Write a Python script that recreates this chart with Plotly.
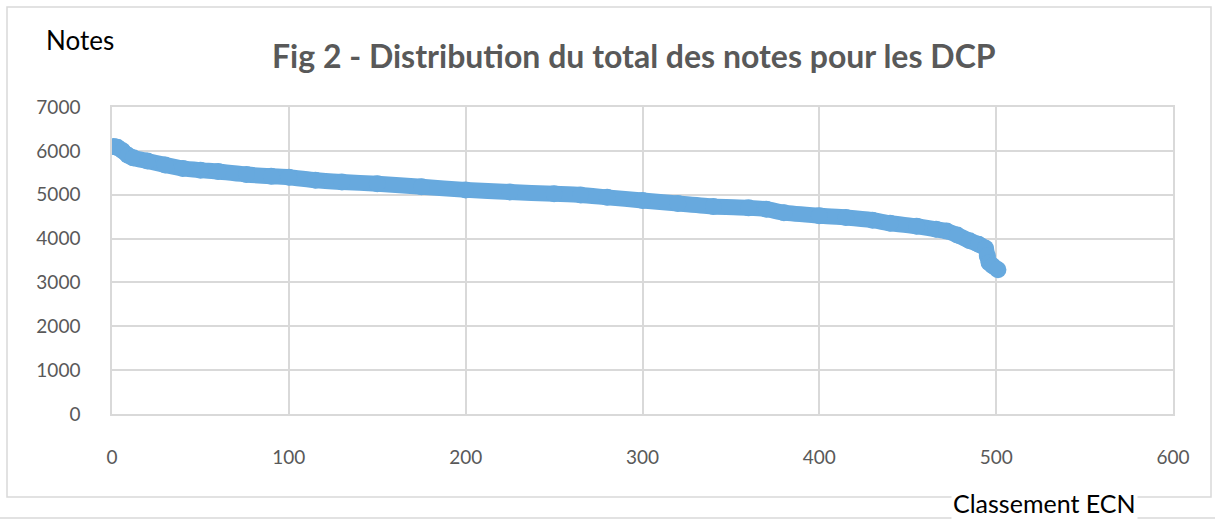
import plotly.graph_objects as go

ranks = [1, 3, 6, 9, 12, 20, 30, 40, 50, 60, 76, 90, 100, 115, 130, 150, 175,
         200, 225, 250, 265, 280, 300, 320, 340, 360, 370, 380, 400, 415, 430,
         440, 455, 466, 472, 478, 485, 490, 494, 495, 496, 498, 501]
notes = [6100, 6080, 6000, 5900, 5840, 5770, 5680, 5600, 5560, 5530, 5460,
         5420, 5400, 5330, 5290, 5250, 5180, 5110, 5060, 5020, 4995, 4940,
         4870, 4800, 4730, 4700, 4670, 4590, 4520, 4480, 4420, 4350, 4280,
         4210, 4170, 4080, 3950, 3870, 3780, 3600, 3450, 3380, 3290]

x_ticks = [0, 100, 200, 300, 400, 500, 600]
y_ticks = [0, 1000, 2000, 3000, 4000, 5000, 6000, 7000]

title_text = "Fig 2 - Distribution du total des notes pour les DCP"
y_label = "Notes"
x_label = "Classement ECN"

W, H = 1215, 520
L, R, T, B = 112, 42, 107, 106
pw, ph = W - L - R, H - T - B

def px(x):
    return (x - L) / pw

def py(y):
    return (H - B - y) / ph

blue = "#67A9DE"
grid = "#D9D9D9"
font = "Lato"

fig = go.Figure()
fig.add_trace(go.Scatter(
    x=ranks, y=notes, mode="lines+markers",
    line=dict(color=blue, width=16, shape="spline", smoothing=0.6),
    marker=dict(color=blue, size=17),
    hoverinfo="x+y", showlegend=False,
))

fig.update_layout(
    width=W, height=H,
    margin=dict(l=L, r=R, t=T, b=B),
    paper_bgcolor="white", plot_bgcolor="white",
    font=dict(family=font, color="#595959", size=19),
    xaxis=dict(range=[0, 600], tickvals=x_ticks, ticktext=[str(v) for v in x_ticks],
               showgrid=True, gridcolor=grid, gridwidth=1.5,
               showline=True, linecolor=grid, linewidth=1.5, mirror=True,
               zeroline=False, ticks="", ticklabelstandoff=25,
               tickfont=dict(size=19, color="#595959", family=font)),
    yaxis=dict(range=[0, 7000], tickvals=y_ticks, ticktext=[str(v) for v in y_ticks],
               showgrid=True, gridcolor=grid, gridwidth=1.5,
               showline=True, linecolor=grid, linewidth=1.5, mirror=True,
               zeroline=False, ticks="", ticklabelstandoff=26,
               tickfont=dict(size=19, color="#595959", family=font)),
    shapes=[
        dict(type="rect", xref="paper", yref="paper",
             x0=px(7), x1=px(1211), y0=py(497), y1=py(7),
             line=dict(color="#D9D9D9", width=1.5), layer="below"),
        dict(type="line", xref="paper", yref="paper",
             x0=px(0), x1=px(1215), y0=py(518), y1=py(518),
             line=dict(color="#D9D9D9", width=1.5)),
    ],
    annotations=[
        dict(text="<b>" + title_text + "</b>", xref="paper", yref="paper",
             x=px(634), y=py(56), xanchor="center", yanchor="middle",
             showarrow=False, font=dict(size=32, color="#595959", family=font)),
        dict(text=y_label, xref="paper", yref="paper",
             x=px(44), y=py(40), xanchor="left", yanchor="middle",
             showarrow=False, font=dict(size=26, color="black", family=font)),
        dict(text=x_label, xref="paper", yref="paper",
             x=px(1044), y=py(503), xanchor="center", yanchor="middle",
             showarrow=False, bgcolor="white", borderpad=1,
             font=dict(size=25, color="black", family=font)),
    ],
)

fig.write_html("out.html", config={"displayModeBar": False},
               post_script="document.body.style.margin='0px';document.body.style.padding='0px';")
